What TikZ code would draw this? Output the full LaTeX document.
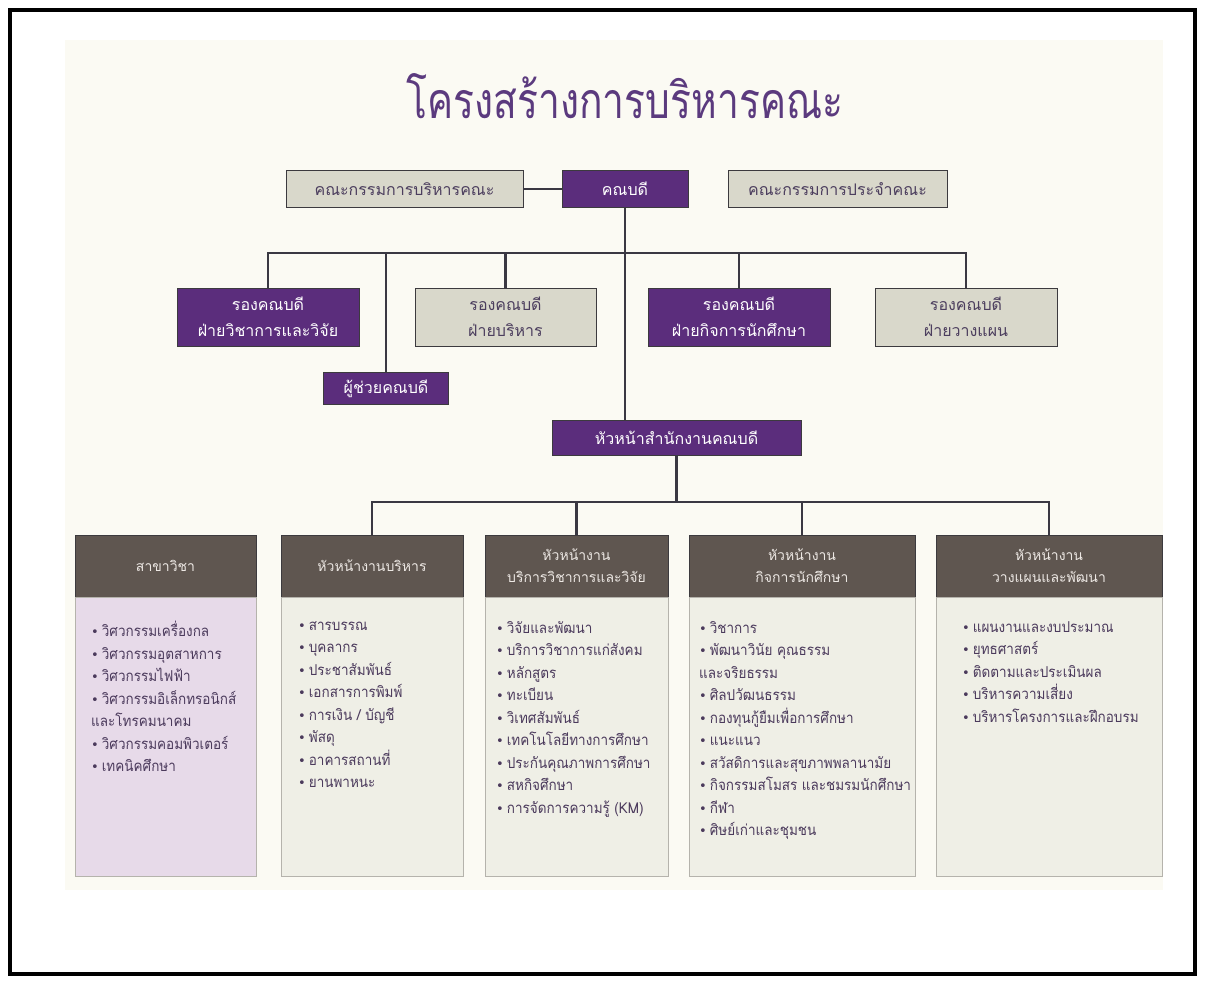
\documentclass[tikz,border=0pt]{standalone}
\usepackage{fontspec}
\newfontfamily\thaifont[Script=Thai]{Loma}
\newfontfamily\thainarrow[Script=Thai,FakeStretch=0.9]{Loma}
\newfontfamily\thaititle[Script=Thai,FakeStretch=0.78]{Loma}
\newfontfamily\symfont{DejaVu Sans}
\definecolor{purp}{RGB}{91,45,124}
\definecolor{graybox}{RGB}{217,216,203}
\definecolor{boxline}{RGB}{60,58,62}
\definecolor{boxtext}{RGB}{76,62,94}
\definecolor{linec}{RGB}{58,56,66}
\definecolor{headc}{RGB}{95,86,80}
\definecolor{headtext}{RGB}{237,232,228}
\definecolor{bodyc}{RGB}{239,239,230}
\definecolor{lavc}{RGB}{231,218,233}
\definecolor{bodyline}{RGB}{181,179,172}
\definecolor{bodytext}{RGB}{75,58,92}
\definecolor{titlec}{RGB}{91,58,126}
\definecolor{cream}{RGB}{251,250,243}
\newcommand{\bl}{{\symfont\fontsize{13}{13}\selectfont\color{bodytext}•}\hspace{3pt}}

\begin{document}
\begin{tikzpicture}[x=1pt,y=-1pt,
    pbox/.style={draw=boxline,fill=purp,text=white,align=center,inner sep=0pt,
      font=\thaifont\fontsize{16}{26}\selectfont},
    gbox/.style={pbox,fill=graybox,text=boxtext},
    head/.style={draw=boxline,fill=headc,text=headtext,align=center,inner sep=0pt,
      minimum height=62pt,font=\thaifont\fontsize{14}{22}\selectfont},
    body/.style={draw=bodyline,fill=bodyc,inner sep=0pt,minimum height=279pt},
    items/.style={anchor=north west,align=left,inner sep=0pt,text=bodytext,
      font=\thainarrow\fontsize{15}{22.5}\selectfont,
      execute at begin node=\rule{0pt}{20pt}},
    conn/.style={draw=linec,line width=2.2pt}]

\useasboundingbox (0,0) rectangle (1205,983);
\fill[cream] (65,40) rectangle (1163,890);
\draw[line width=4pt] (10,10) rectangle (1195,974);

\node[text=titlec,font=\thaititle\fontsize{50}{56}\selectfont] (title) at (625,96) {โครงสร้างการบริหารคณะ};

% top row
\node[gbox,minimum width=237pt,minimum height=37pt] (exec) at (404.5,189) {คณะกรรมการบริหารคณะ};
\node[pbox,minimum width=126pt,minimum height=37pt] (dean) at (625,189) {คณบดี};
\node[gbox,minimum width=219pt,minimum height=37pt] (board) at (837.5,189) {คณะกรรมการประจำคณะ};

% vice deans
\node[pbox,minimum width=182pt,minimum height=58pt] (vacad) at (268,317) {รองคณบดี\\ฝ่ายวิชาการและวิจัย};
\node[gbox,minimum width=181pt,minimum height=58pt] (vadmin) at (505.5,317) {รองคณบดี\\ฝ่ายบริหาร};
\node[pbox,minimum width=182pt,minimum height=58pt] (vstud) at (739,317) {รองคณบดี\\ฝ่ายกิจการนักศึกษา};
\node[gbox,minimum width=182pt,minimum height=58pt] (vplan) at (966,317) {รองคณบดี\\ฝ่ายวางแผน};
\node[pbox,minimum width=125pt,minimum height=32pt] (asst) at (386,388.5) {ผู้ช่วยคณบดี};
\node[pbox,minimum width=249pt,minimum height=35pt] (office) at (676.5,437.5) {หัวหน้าสำนักงานคณบดี};

% columns
\node[head,minimum width=181pt] (h1) at (165.5,566) {สาขาวิชา};
\node[body,fill=lavc,minimum width=181pt] (b1) at (165.5,736.5) {};
\node[head,minimum width=182pt] (h2) at (372,566) {หัวหน้างานบริหาร};
\node[body,minimum width=182pt] (b2) at (372,736.5) {};
\node[head,minimum width=183pt] (h3) at (576.5,566) {หัวหน้างาน\\บริการวิชาการและวิจัย};
\node[body,minimum width=183pt] (b3) at (576.5,736.5) {};
\node[head,minimum width=226pt] (h4) at (802,566) {หัวหน้างาน\\กิจการนักศึกษา};
\node[body,minimum width=226pt] (b4) at (802,736.5) {};
\node[head,minimum width=226pt] (h5) at (1049,566) {หัวหน้างาน\\วางแผนและพัฒนา};
\node[body,minimum width=226pt] (b5) at (1049,736.5) {};

\node[items] (l1) at (91,621) {\bl วิศวกรรมเครื่องกล\\\bl วิศวกรรมอุตสาหการ\\\bl วิศวกรรมไฟฟ้า\\\bl วิศวกรรมอิเล็กทรอนิกส์\\และโทรคมนาคม\\\bl วิศวกรรมคอมพิวเตอร์\\\bl เทคนิคศึกษา};
\node[items] (l2) at (298,621) {\bl สารบรรณ\\\bl บุคลากร\\\bl ประชาสัมพันธ์\\\bl เอกสารการพิมพ์\\\bl การเงิน / บัญชี\\\bl พัสดุ\\\bl อาคารสถานที่\\\bl ยานพาหนะ};
\node[items] (l3) at (496,621) {\bl วิจัยและพัฒนา\\\bl บริการวิชาการแก่สังคม\\\bl หลักสูตร\\\bl ทะเบียน\\\bl วิเทศสัมพันธ์\\\bl เทคโนโลยีทางการศึกษา\\\bl ประกันคุณภาพการศึกษา\\\bl สหกิจศึกษา\\\bl การจัดการความรู้ (KM)};
\node[items] (l4) at (699,621) {\bl วิชาการ\\\bl พัฒนาวินัย คุณธรรม\\และจริยธรรม\\\bl ศิลปวัฒนธรรม\\\bl กองทุนกู้ยืมเพื่อการศึกษา\\\bl แนะแนว\\\bl สวัสดิการและสุขภาพพลานามัย\\\bl กิจกรรมสโมสร และชมรมนักศึกษา\\\bl กีฬา\\\bl ศิษย์เก่าและชุมชน};
\node[items] (l5) at (962,621) {\bl แผนงานและงบประมาณ\\\bl ยุทธศาสตร์\\\bl ติดตามและประเมินผล\\\bl บริหารความเสี่ยง\\\bl บริหารโครงการและฝึกอบรม};

% connectors
\draw[conn] (exec) -- (dean);
\coordinate (bus1) at (625,253);
\coordinate (bus2) at (676.5,502);
\draw[conn] (dean.south) -- (dean.south |- office.north);
\draw[conn] (vacad.north) |- (bus1) -| (vplan.north);
\draw[conn] (asst.north) -- (asst.north |- bus1);
\draw[conn] (vadmin.north) -- (vadmin.north |- bus1);
\draw[conn] (vstud.north) -- (vstud.north |- bus1);
\draw[conn] (office.south) -- (bus2);
\draw[conn] (h2.north) |- (bus2) -| (h5.north);
\draw[conn] (h3.north) -- (h3.north |- bus2);
\draw[conn] (h4.north) -- (h4.north |- bus2);
\end{tikzpicture}
\end{document}
